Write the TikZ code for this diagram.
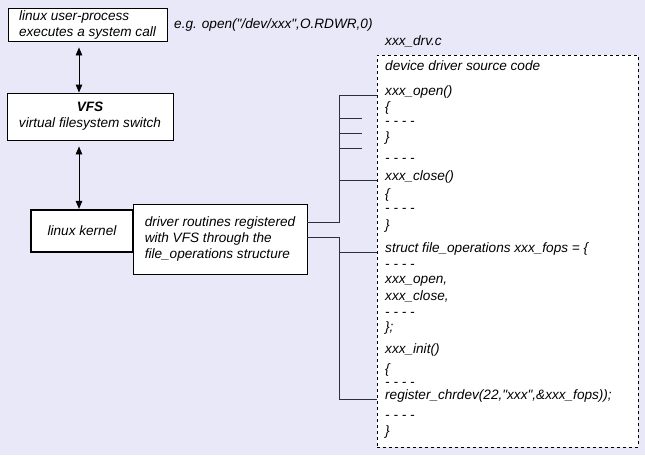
\documentclass[tikz,border=0pt]{standalone}
\usepackage{fontspec}
\setmainfont{Liberation Sans}
\usetikzlibrary{arrows.meta}
\definecolor{bglavender}{RGB}{232,232,248}
\definecolor{wiregray}{RGB}{45,45,70}

\tikzset{
  box/.style={draw=black, fill=white, line width=0.9pt, inner sep=0pt},
  wire/.style={draw=wiregray, line width=1pt},
  updown/.style={draw=black, line width=0.9pt, {Triangle[length=8pt,width=6.5pt]}-{Triangle[length=8pt,width=6.5pt]}},
  codeline/.style={anchor=base west, inner sep=0pt},
}

\begin{document}
\begin{tikzpicture}[x=1pt,y=-1pt,font=\fontsize{13.6}{16}\selectfont\itshape]
% Draw the background
\fill[bglavender] (0,0) rectangle (645,455);
\useasboundingbox (0,0) rectangle (645,455);
% Draw the boxes on the left
\node[box, minimum width=159pt, minimum height=33pt, align=left] (user) at (87.5,24.5) {linux user-process\\executes a system call};
\node[codeline] (example) at (174,28) {e.g. open(\textquotedbl/dev/xxx\textquotedbl,O.RDWR,0)};
\node[box, minimum width=166pt, minimum height=47pt, align=center] (vfs) at (90,116.5) {\textbf{VFS}\\virtual filesystem switch};
\node[box, minimum width=174pt, minimum height=70pt, align=left] (driver) at (220,239) {driver routines registered\\with VFS through the\\file\_operations structure};
\node[box, line width=2.2pt, minimum width=102pt, minimum height=42pt] (kernel) at (82,231) {linux kernel};
% Arrows between the layers
\coordinate (axis) at (79,0);
\draw[updown, shorten <=6pt] (axis |- user.south) -- (axis |- vfs.north);
\draw[updown, shorten <=6pt] (axis |- vfs.south) -- (axis |- kernel.north);
% Draw the source file frame
\node[codeline] (fname) at (385,45) {xxx\_drv.c};
\node[draw=black, fill=white, line width=0.9pt, dash pattern=on 3pt off 3pt, minimum width=261pt, minimum height=392pt, inner sep=0pt] (src) at (507.5,251) {};
% Code lines
\foreach \txt/\base [count=\i] in {device driver source code/70, xxx\_open()/95, \{/111, - - - -/125, \}/141, - - - -/162,
  xxx\_close()/180, \{/198, - - - -/212, \}/229, struct file\_operations xxx\_fops = \{/252, - - - -/268,
  {xxx\_open,}/283, {xxx\_close,}/300, - - - -/316, \};/331, xxx\_init()/353, \{/373, - - - -/386,
  {register\_chrdev(22,\textquotedbl xxx\textquotedbl,\&xxx\_fops));}/399, - - - -/419, \}/435}
  \node[codeline] (code\i) at (385,\base) {\txt};
% Upper bus to the open and close routines
\coordinate (bus) at (339,0);
\draw[wire] ([yshift=17pt]driver.east) -| (bus |- code2.base) -- (src.west |- code2.base);
\draw[wire] (bus |- code7.base) -- (src.west |- code7.base);
\foreach \y [count=\j] in {118,133,148} {
  \coordinate (stub\j) at (362,\y);
  \draw[wire] (bus |- stub\j) -- (stub\j);
}
% Lower bus to the fops table and init routine
\draw[wire] ([yshift=2pt]driver.east) -| (bus |- code20.base) -- (src.west |- code20.base);
\draw[wire] (bus |- code11.base) -- (src.west |- code11.base);
\end{tikzpicture}
\end{document}
